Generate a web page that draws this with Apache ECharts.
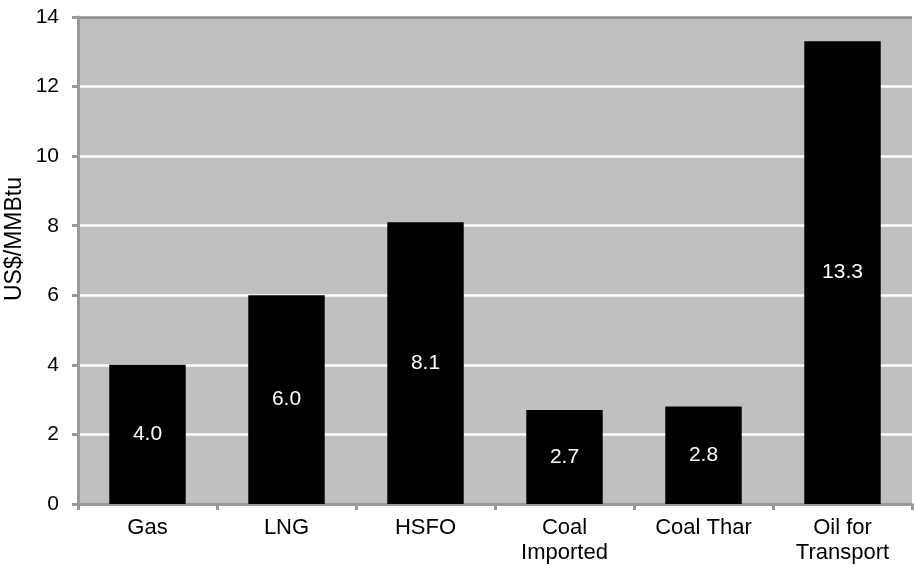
<!DOCTYPE html>
<html>
<head>
<meta charset="utf-8">
<script src="https://cdn.jsdelivr.net/npm/echarts@6/dist/echarts.min.js"></script>
<style>
  html, body { margin: 0; padding: 0; background: #fff; }
  #chart { width: 914px; height: 565px; }
</style>
</head>
<body>
<div id="chart"></div>
<script>
// Fuel prices by source (US$/MMBtu)
const categories = ['Gas', 'LNG', 'HSFO', 'Coal\nImported', 'Coal Thar', 'Oil for\nTransport'];
const prices = [4.0, 6.0, 8.1, 2.7, 2.8, 13.3];
const yTicks = [0, 2, 4, 6, 8, 10, 12, 14];

const FONT = '"Liberation Sans", Arial, Helvetica, sans-serif';
const AXIS_GRAY = '#999999';

const chart = echarts.init(document.getElementById('chart'), null, { renderer: 'canvas' });

chart.setOption({
  animation: false,
  backgroundColor: '#ffffff',
  textStyle: { fontFamily: FONT },
  grid: {
    left: 78, right: 2, top: 17, bottom: 59,
    show: true, backgroundColor: '#c0c0c0', borderWidth: 0
  },
  graphic: [{
    type: 'text',
    x: 15, y: 239,
    rotation: Math.PI / 2,
    style: {
      text: 'US$/MMBtu',
      fontFamily: FONT,
      fontSize: 23,
      fill: '#000',
      align: 'center',
      verticalAlign: 'middle'
    }
  }],
  xAxis: {
    type: 'category',
    data: categories,
    axisLine: { show: true, lineStyle: { color: AXIS_GRAY, width: 3 } },
    axisTick: { show: true, alignWithLabel: false, length: 6, lineStyle: { color: AXIS_GRAY, width: 3 } },
    axisLabel: { color: '#000', fontSize: 22, fontFamily: FONT, margin: 11, lineHeight: 25, interval: 0 },
    splitLine: { show: false }
  },
  yAxis: {
    type: 'value',
    min: yTicks[0],
    max: yTicks[yTicks.length - 1],
    interval: 2,
    axisLine: { show: true, lineStyle: { color: AXIS_GRAY, width: 3 } },
    axisTick: { show: true, length: 6, lineStyle: { color: AXIS_GRAY, width: 3 } },
    axisLabel: { color: '#000', fontSize: 21, fontFamily: FONT, margin: 19 },
    splitLine: {
      show: true,
      lineStyle: {
        color: ['#ffffff', '#ffffff', '#ffffff', '#ffffff', '#ffffff', '#ffffff', '#ffffff', '#8c8c8c'],
        width: 2.5
      }
    }
  },
  series: [{
    type: 'bar',
    data: prices,
    barWidth: '55%',
    itemStyle: { color: '#000000' },
    label: {
      show: true,
      position: 'inside',
      color: '#ffffff',
      fontSize: 21,
      fontFamily: FONT,
      formatter: p => p.value.toFixed(1)
    }
  }]
});
</script>
</body>
</html>
